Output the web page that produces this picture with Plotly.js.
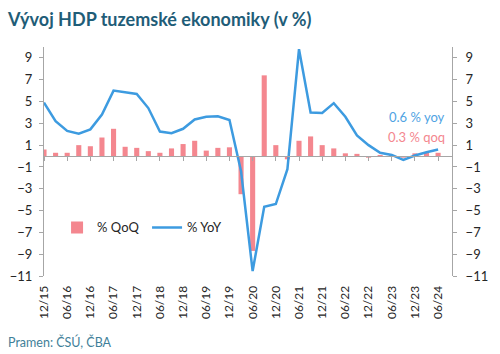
<!DOCTYPE html>
<html><head><meta charset="utf-8">
<script src="https://cdn.plot.ly/plotly-3.0.1.min.js"></script>
<style>html,body{margin:0;padding:0;background:#fff}#chart{width:500px;height:354px}</style>
</head><body><div id="chart"></div>
<script>
const quarters = ["12/15","03/16","06/16","09/16","12/16","03/17","06/17","09/17","12/17","03/18","06/18","09/18","12/18","03/19","06/19","09/19","12/19","03/20","06/20","09/20","12/20","03/21","06/21","09/21","12/21","03/22","06/22","09/22","12/22","03/23","06/23","09/23","12/23","03/24","06/24"];
const qoq = [0.6,0.3,0.3,1.0,0.9,1.7,2.5,0.85,0.75,0.45,0.3,0.7,1.1,1.4,0.5,0.75,0.8,-3.5,-8.7,7.4,1.0,-0.3,1.4,1.8,1.0,0.7,0.25,0.2,-0.15,0.1,0.1,-0.15,0.25,0.3,0.3];
const yoy = [4.9,3.2,2.3,2.05,2.45,3.8,6.0,5.85,5.7,4.4,2.25,2.1,2.5,3.35,3.6,3.65,3.3,-1.4,-10.55,-4.65,-4.4,-1.2,9.8,4.0,3.95,4.85,3.6,1.9,1.0,0.3,0.1,-0.35,0.05,0.35,0.6];
const yTicks = [-11,-9,-7,-5,-3,-1,1,3,5,7,9];
const xTickLabels = quarters.filter((q, i) => i % 2 === 0);
const seriesNames = ["% QoQ", "% YoY"];
const lastYoYLabel = "0.6 % yoy";
const lastQoQLabel = "0.3 % qoq";
const titleText = "Vývoj HDP tuzemské ekonomiky (v %)";
const sourceText = "Pramen: ČSÚ, ČBA";

const FONT = "Lato, 'Open Sans', sans-serif";
const axisGray = "#a6a6a6";
const tickFont = {family: FONT, size: 13, color: "#262626"};
const yMin = -11, yMax = 10;
const xRange = [0, 35.2];

const traces = [
  {type: "bar", name: seriesNames[0], x: quarters, y: qoq, xaxis: "x", yaxis: "y",
   marker: {color: "#f4878f"}, hoverinfo: "skip"},
  {type: "scatter", mode: "lines", name: seriesNames[1], x: quarters, y: yoy, xaxis: "x2", yaxis: "y2",
   line: {color: "#3d9be0", width: 2.5}, hoverinfo: "skip"}
];

const layout = {
  width: 500, height: 354,
  margin: {l: 44, r: 48, t: 47, b: 78},
  paper_bgcolor: "#ffffff", plot_bgcolor: "#ffffff",
  bargap: 0.56,
  showlegend: true,
  title: {text: titleText, font: {family: FONT, size: 18, color: "#1f5d78", weight: 700},
          x: 0.016, xanchor: "left", xref: "container", y: 0.945, yanchor: "middle", yref: "container"},
  xaxis: {type: "category", range: xRange, tickvals: xTickLabels, ticktext: xTickLabels,
          tickangle: -90, tickfont: {family: FONT, size: 12, color: "#262626"},
          showline: false, showgrid: false, zeroline: false, ticks: "outside", ticklen: 4,
          tickcolor: "rgba(0,0,0,0)"},
  xaxis2: {type: "category", overlaying: "x", anchor: "free", position: (0 - yMin) / (yMax - yMin),
           range: xRange, tickvals: xTickLabels, showticklabels: false, side: "bottom",
           showline: true, linecolor: axisGray, linewidth: 1, ticks: "outside", ticklen: 4,
           tickcolor: axisGray, showgrid: false, zeroline: false},
  yaxis: {range: [yMin, yMax], tickvals: yTicks, tickfont: tickFont, showline: true, linecolor: axisGray,
          ticks: "outside", ticklen: 4, tickcolor: axisGray, showgrid: false, zeroline: false,
          ticklabelstandoff: 4},
  yaxis2: {range: [yMin, yMax], tickvals: yTicks, tickfont: tickFont, overlaying: "y", side: "right", anchor: "x2",
           showline: true, linecolor: axisGray, ticks: "outside", ticklen: 4, tickcolor: axisGray,
           showgrid: false, zeroline: false, ticklabelstandoff: 6},
  legend: {orientation: "h", x: 0.032, xanchor: "left", y: 0.212, yanchor: "middle",
           bgcolor: "rgba(0,0,0,0)", font: {family: FONT, size: 13, color: "#262626"},
           entrywidth: 45, entrywidthmode: "pixels", traceorder: "normal"},
  annotations: [
    {text: lastYoYLabel, xref: "paper", yref: "y", x: 0.988, y: 3.6, xanchor: "right", yanchor: "middle",
     showarrow: false, font: {family: FONT, size: 13, color: "#4fa3e3"}},
    {text: lastQoQLabel, xref: "paper", yref: "y", x: 0.988, y: 1.75, xanchor: "right", yanchor: "middle",
     showarrow: false, font: {family: FONT, size: 13, color: "#f4878f"}},
    {text: sourceText, xref: "paper", yref: "paper", x: -0.093, y: -0.287, xanchor: "left", yanchor: "middle",
     showarrow: false, font: {family: FONT, size: 12.5, color: "#3f7f99"}}
  ]
};

Plotly.newPlot("chart", traces, layout, {displayModeBar: false, staticPlot: true});
</script>
</body></html>
